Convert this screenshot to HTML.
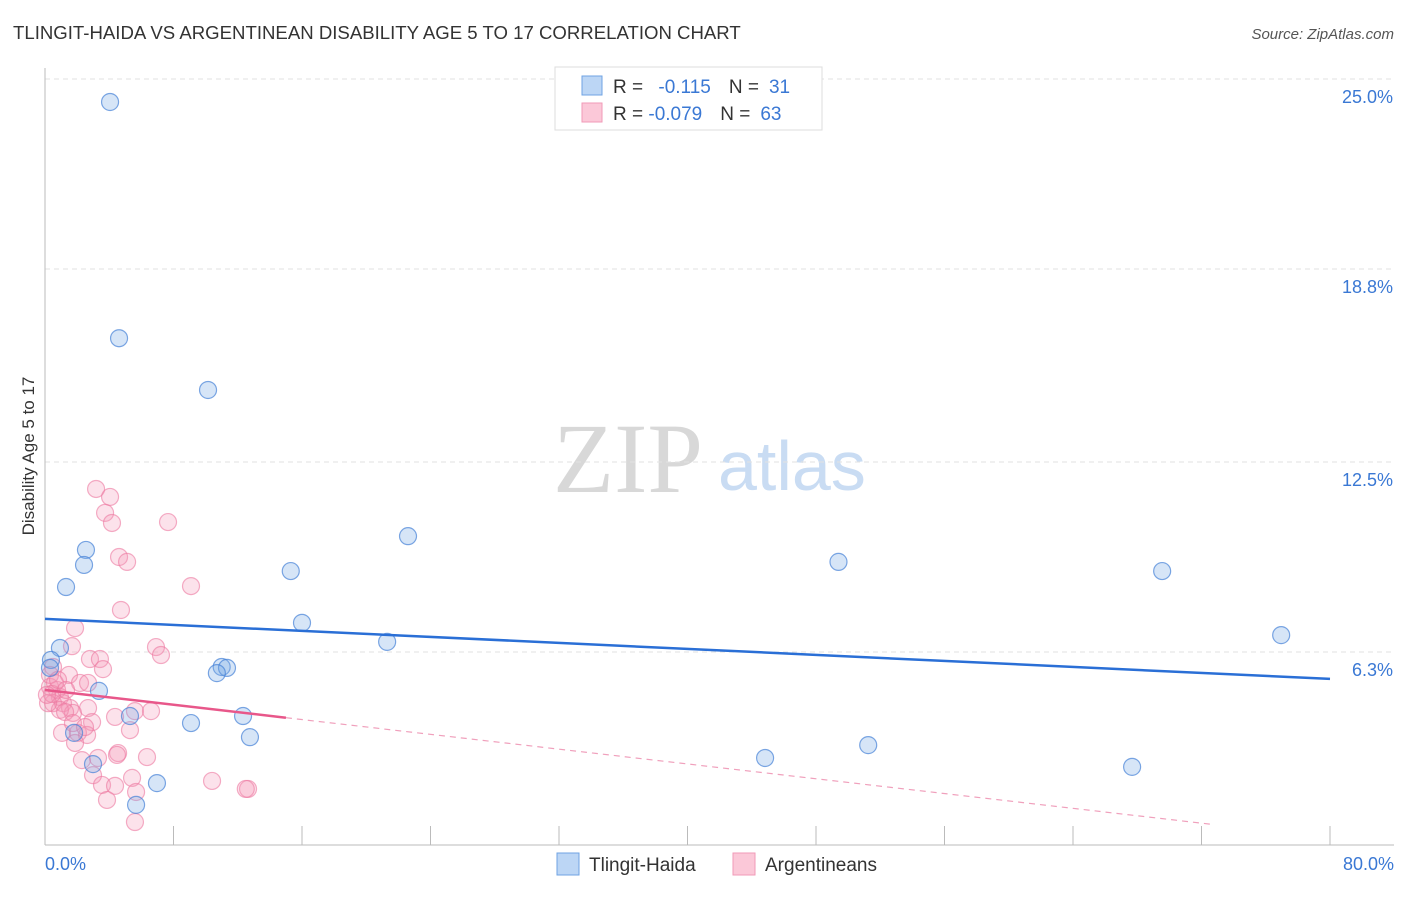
<!DOCTYPE html>
<html><head><meta charset="utf-8"><style>
body{margin:0;background:#fff;font-family:"Liberation Sans",sans-serif}
</style></head><body>
<svg id="chart" width="1406" height="892" xmlns="http://www.w3.org/2000/svg" font-family="Liberation Sans, sans-serif">
<text x="13" y="39" font-size="18.6" fill="#333">TLINGIT-HAIDA VS ARGENTINEAN DISABILITY AGE 5 TO 17 CORRELATION CHART</text>
<text x="1394" y="39" font-size="15" fill="#555" text-anchor="end" font-style="italic">Source: ZipAtlas.com</text>
<text x="553" y="492" font-size="100" fill="#d8d8d8" style="font-family:'Liberation Serif',serif">ZIP</text>
<text x="718" y="490" font-size="70" fill="#c9dcf3">atlas</text>
<text transform="translate(34,456) rotate(-90)" font-size="17" fill="#333" text-anchor="middle">Disability Age 5 to 17</text>
<g id="grid"></g><g id="axes"></g><g id="marks"></g>
<g>
<rect x="555" y="67" width="267" height="63" fill="#fff" stroke="#ddd"/>
<rect x="582" y="76" width="20" height="19" fill="#bcd6f5" stroke="#6fa3e3"/>
<rect x="582" y="103" width="20" height="19" fill="#fbc8d8" stroke="#f09ab7"/>
<text x="613" y="93" font-size="19" fill="#333">R = <tspan fill="#3a78d4" dx="10">-0.115</tspan><tspan fill="#333" dx="18">N =</tspan><tspan fill="#3a78d4" dx="10">31</tspan></text>
<text x="613" y="120" font-size="19" fill="#333">R = <tspan fill="#3a78d4">-0.079</tspan><tspan fill="#333" dx="18">N =</tspan><tspan fill="#3a78d4" dx="10">63</tspan></text>
</g>
<g>
<rect x="557" y="853" width="22" height="22" fill="#bcd6f5" stroke="#6fa3e3"/>
<text x="589" y="871" font-size="19" fill="#333">Tlingit-Haida</text>
<rect x="733" y="853" width="22" height="22" fill="#fbc8d8" stroke="#f09ab7"/>
<text x="765" y="871" font-size="19" fill="#333">Argentineans</text>
</g>
</svg>
<script>
const yTicks=[25.0,18.8,12.5,6.3];
const yTickLabels=["25.0%","18.8%","12.5%","6.3%"];
const xEndLabels=["0.0%","80.0%"];
const blueX=[4.05,4.61,10.15,22.6,2.55,2.43,1.31,15.3,16.0,21.3,0.93,0.37,0.31,11.0,11.33,10.7,3.36,9.09,5.29,12.33,12.76,1.81,2.99,6.97,5.67,49.4,69.55,76.96,44.83,51.25,67.68];
const blueY=[24.25,16.54,14.85,10.08,9.63,9.14,8.42,8.94,7.25,6.63,6.43,6.04,5.78,5.81,5.78,5.61,5.03,3.98,4.21,4.21,3.52,3.66,2.64,2.02,1.31,9.24,8.94,6.85,2.84,3.26,2.55];
const pinkX=[3.18,4.05,3.74,4.17,7.66,4.61,5.11,9.09,4.73,1.87,1.68,6.91,7.22,2.8,3.42,3.61,0.5,1.49,2.18,2.68,0.31,0.75,0.93,0.5,1.12,1.56,1.74,2.68,0.93,4.36,5.6,6.6,2.93,5.29,1.06,2.05,2.62,1.87,4.55,4.48,6.35,2.3,3.3,2.99,3.55,4.36,5.42,5.67,3.86,5.6,10.4,12.64,0.31,0.19,0.62,1.25,1.74,2.49,0.44,0.81,1.31,0.12,12.5];
const pinkY=[11.62,11.36,10.84,10.51,10.54,9.4,9.24,8.45,7.67,7.08,6.49,6.46,6.2,6.07,6.07,5.74,5.81,5.55,5.29,5.29,5.16,5.06,4.83,4.63,4.63,4.47,4.31,4.47,4.41,4.18,4.37,4.37,4.01,3.75,3.66,3.66,3.59,3.33,3.0,2.94,2.87,2.77,2.84,2.28,1.96,1.93,2.19,1.73,1.47,0.75,2.09,1.83,5.55,4.63,5.29,4.34,3.98,3.85,4.93,5.39,5.06,4.9,1.83];
const blueTrend=[7.38,5.42];
const pinkTrend=[5.06,0.23];
const NS="http://www.w3.org/2000/svg";
const X=v=>45+v/80*1285, Y=v=>845-v/25*766;
function mk(t,a,p){const e=document.createElementNS(NS,t);for(const k in a)e.setAttribute(k,a[k]);p.appendChild(e);return e;}
const grid=document.getElementById('grid'),axes=document.getElementById('axes'),marks=document.getElementById('marks');
yTicks.forEach((t,i)=>{
 const l=mk('line',{x1:45,x2:1394,y1:Y(t),y2:Y(t),stroke:'#e2e2e2','stroke-dasharray':'5,4'},grid);
 
 
 const tx=mk('text',{x:1393,y:Y(t)+24,'font-size':18,fill:'#3a78d4','text-anchor':'end'},axes);
 tx.textContent=yTickLabels[i];
 
 
});
const ya=mk('line',{x1:45,x2:45,y1:68,y2:845,stroke:'#bbb'},axes);


const xa=mk('line',{x1:45,x2:1394,y1:845,y2:845,stroke:'#bbb'},axes);


for(let v=0;v<=80;v+=8){
 const t=mk('line',{x1:X(v),x2:X(v),y1:826,y2:845,stroke:'#bbb'},axes);
 
 
}
[[0,'start',45],[80,'end',1394]].forEach((d,i)=>{
 const t=mk('text',{x:d[2],y:870,'font-size':18,fill:'#3a78d4','text-anchor':d[1]},axes);
 t.textContent=xEndLabels[i];
 
 
});
pinkX.forEach((x,i)=>{
 const c=mk('circle',{cx:X(x),cy:Y(pinkY[i]),r:8.5,fill:'rgba(244,150,182,0.28)',stroke:'rgba(236,120,160,0.6)','stroke-width':1.2},marks);
 
 
});
blueX.forEach((x,i)=>{
 const c=mk('circle',{cx:X(x),cy:Y(blueY[i]),r:8.5,fill:'rgba(120,170,230,0.3)',stroke:'rgba(70,130,215,0.7)','stroke-width':1.2},marks);
 
 
});
const pt=v=>pinkTrend[0]+(pinkTrend[1]-pinkTrend[0])*v/80;
const bl=mk('line',{x1:X(0),y1:Y(blueTrend[0]),x2:X(80),y2:Y(blueTrend[1]),stroke:'#2a6fd6','stroke-width':2.5},marks);


const pd=mk('line',{x1:X(15),y1:Y(pt(15)),x2:X(72.6),y2:Y(pt(72.6)),stroke:'#f0a0bc','stroke-width':1.2,'stroke-dasharray':'6,5'},marks);


const pl=mk('line',{x1:X(0),y1:Y(pt(0)),x2:X(15),y2:Y(pt(15)),stroke:'#e8578a','stroke-width':2.5},marks);


</script>
</body></html>
